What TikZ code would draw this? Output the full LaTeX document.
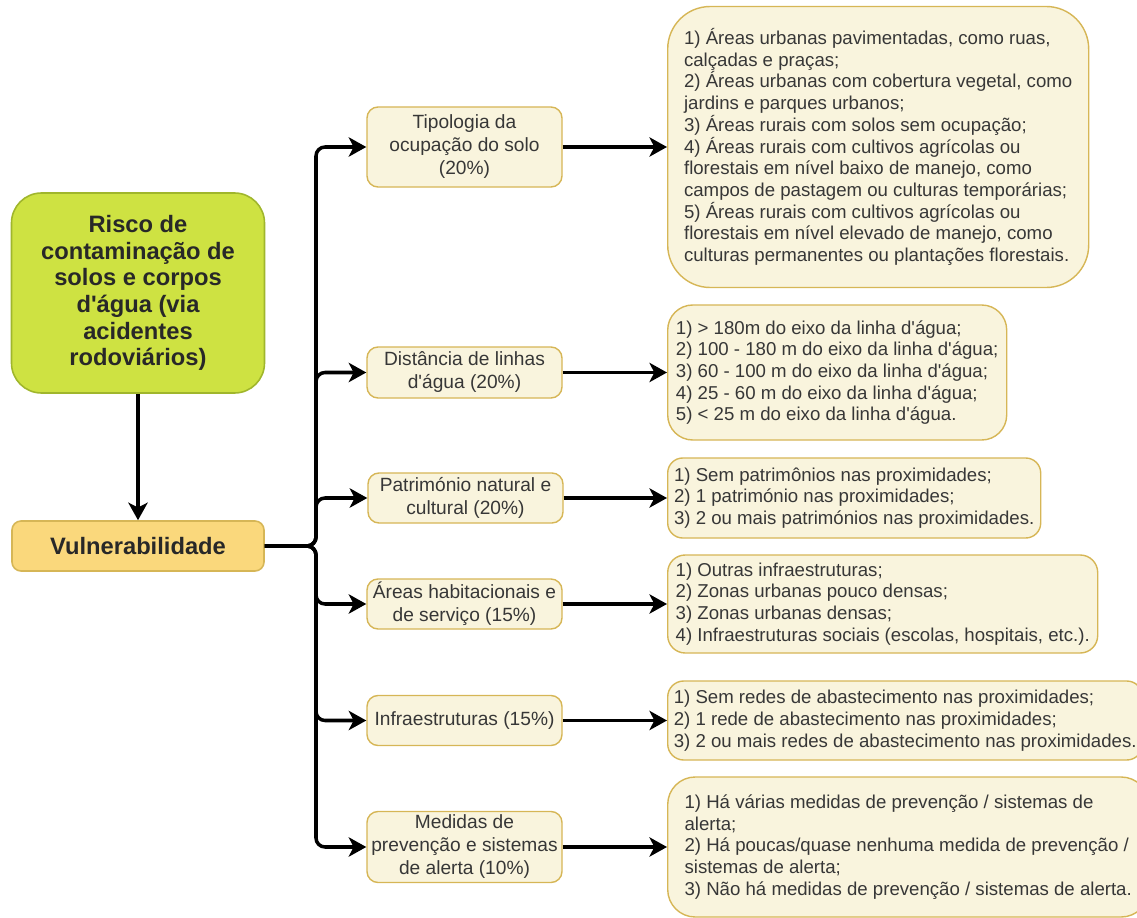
\documentclass[tikz,border=0pt]{standalone}
\usepackage{fontspec}
\setmainfont{Liberation Sans}[Ligatures=TeXOff]
\usetikzlibrary{arrows.meta}

\definecolor{limefill}{RGB}{206,226,66}
\definecolor{limeline}{RGB}{160,182,44}
\definecolor{vulfill}{RGB}{250,216,124}
\definecolor{goldline}{RGB}{214,182,86}
\definecolor{creamfill}{RGB}{249,244,221}
\definecolor{textdark}{RGB}{40,40,40}
\definecolor{textgray}{RGB}{55,55,55}

\begin{document}
\begin{tikzpicture}[
    risknode/.style={draw=limeline, fill=limefill, line width=0.9pt, rounded corners=0.6cm,
        align=center, text=textdark, font=\fontsize{13.5}{15.2}\selectfont\bfseries,
        minimum width=5.06cm, minimum height=4cm},
    vulnode/.style={draw=goldline, fill=vulfill, line width=0.9pt, rounded corners=0.18cm,
        align=center, text=textdark, font=\fontsize{13.5}{15.2}\selectfont\bfseries,
        minimum width=5.04cm, minimum height=1cm},
    mid/.style={draw=goldline, fill=creamfill, line width=0.8pt, rounded corners=0.22cm,
        align=center, text=textgray, font=\fontsize{10.9}{13.1}\selectfont,
        minimum width=3.9cm, minimum height=1cm, inner sep=1pt},
    crit/.style={draw=goldline, fill=creamfill, line width=0.8pt, anchor=west,
        align=left, text=textgray, font=\fontsize{10.6}{12.35}\selectfont,
        inner xsep=0.05cm, inner ysep=2pt},
    >={Stealth[length=10pt, width=11pt, inset=2.8pt]},
    line width=2pt
    ]

    \useasboundingbox (0,0) rectangle (22.74,-18.36);

    \node[risknode] (risk) at (2.76,-5.86) {Risco de\\contaminação de\\solos e corpos\\d'água (via\\acidentes\\rodoviários)};
    \node[vulnode] (vul) at (2.76,-10.92) {Vulnerabilidade};
    \coordinate (trunk) at (6.32,-10.92);

    \node[mid, minimum height=1.6cm] (tipo) at (9.29,-2.94) {Tipologia da\\ocupação do solo\\(20\%)};
    \node[mid, minimum height=1.02cm] (dist) at (9.29,-7.45) {Distância de linhas\\d'água (20\%)};
    \node[mid] (patr) at (9.31,-9.96) {Património natural e\\cultural (20\%)};
    \node[mid] (habit) at (9.29,-12.08) {Áreas habitacionais e\\de serviço (15\%)};
    \node[mid] (infra) at (9.29,-14.41) {Infraestruturas (15\%)};
    \node[mid, minimum height=1.42cm] (medid) at (9.29,-16.94) {Medidas de\\prevenção e sistemas\\de alerta (10\%)};

    \node[crit, rounded corners=0.85cm, minimum width=8.42cm, minimum height=5.62cm] (tipoc) at (13.34,-2.94)
        {1) Áreas urbanas pavimentadas, como ruas,\\calçadas e praças;\\2) Áreas urbanas com cobertura vegetal, como\\jardins e parques urbanos;\\3) Áreas rurais com solos sem ocupação;\\4) Áreas rurais com cultivos agrícolas ou\\florestais em nível baixo de manejo, como\\campos de pastagem ou culturas temporárias;\\5) Áreas rurais com cultivos agrícolas ou\\florestais em nível elevado de manejo, como\\culturas permanentes ou plantações florestais.};
    \node[crit, rounded corners=0.5cm, minimum width=6.78cm, minimum height=2.7cm] (distc) at (13.34,-7.45)
        {1) > 180m do eixo da linha d'água;\\2) 100 - 180 m do eixo da linha d'água;\\3) 60 - 100 m do eixo da linha d'água;\\4) 25 - 60 m do eixo da linha d'água;\\5) < 25 m do eixo da linha d'água.};
    \node[crit, rounded corners=0.3cm, minimum width=7.46cm, minimum height=1.6cm] (patrc) at (13.34,-9.96)
        {1) Sem patrimônios nas proximidades;\\2) 1 património nas proximidades;\\3) 2 ou mais patrimónios nas proximidades.};
    \node[crit, rounded corners=0.35cm, minimum width=8.6cm, minimum height=1.96cm] (habitc) at (13.34,-12.08)
        {1) Outras infraestruturas;\\2) Zonas urbanas pouco densas;\\3) Zonas urbanas densas;\\4) Infraestruturas sociais (escolas, hospitais, etc.).};
    \node[crit, rounded corners=0.32cm, minimum width=9.5cm, minimum height=1.58cm] (infrac) at (13.34,-14.41)
        {1) Sem redes de abastecimento nas proximidades;\\2) 1 rede de abastecimento nas proximidades;\\3) 2 ou mais redes de abastecimento nas proximidades.};
    \node[crit, rounded corners=0.55cm, minimum width=9.62cm, minimum height=2.8cm, inner xsep=0.16cm] (medidc) at (13.34,-16.94)
        {1) Há várias medidas de prevenção / sistemas de\\alerta;\\2) Há poucas/quase nenhuma medida de prevenção /\\sistemas de alerta;\\3) Não há medidas de prevenção / sistemas de alerta.};

    \draw[->] (risk) -- (vul);

    \draw[->, rounded corners=0.18cm] (vul.east) -- (trunk) |- (tipo);
    \draw[->, rounded corners=0.18cm] (vul.east) -- (trunk) |- (dist);
    \draw[->, rounded corners=0.18cm] (vul.east) -- (trunk) |- (patr);
    \draw[->, rounded corners=0.18cm] (vul.east) -- (trunk) |- (habit);
    \draw[->, rounded corners=0.18cm] (vul.east) -- (trunk) |- (infra);
    \draw[->, rounded corners=0.18cm] (vul.east) -- (trunk) |- (medid);

    \draw[->] (tipo) -- (tipoc);
    \draw[->] (dist) -- (distc);
    \draw[->] (patr) -- (patrc);
    \draw[->] (habit) -- (habitc);
    \draw[->] (infra) -- (infrac);
    \draw[->] (medid) -- (medidc);

\end{tikzpicture}
\end{document}
